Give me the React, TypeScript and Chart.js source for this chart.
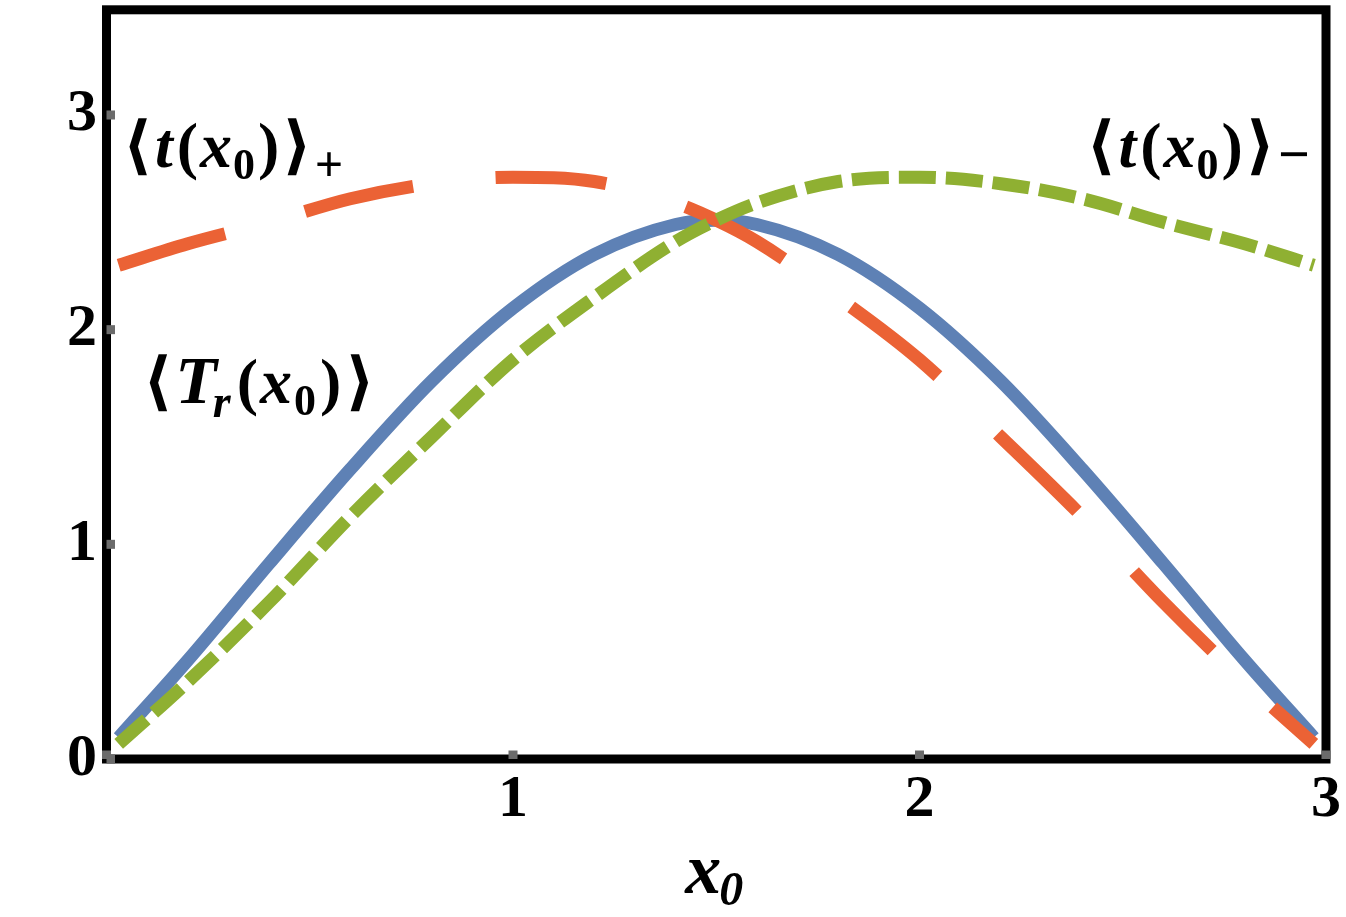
import React, { useEffect, useRef } from 'react';
import { Chart, registerables } from 'chart.js';

Chart.register(...registerables);

// ---- data ----
const X_VALUES = [0.03, 0.2, 0.4, 0.6, 0.8, 1.0, 1.2, 1.4, 1.5, 1.6, 1.8, 2.0, 2.2, 2.4, 2.6, 2.8, 2.97];
const T_R = [0.10, 0.46, 0.91, 1.35, 1.76, 2.10, 2.35, 2.49, 2.51, 2.49, 2.35, 2.10, 1.76, 1.35, 0.91, 0.46, 0.10];
const T_PLUS = [2.30, 2.40, 2.50, 2.61, 2.68, 2.71, 2.69, 2.59, 2.51, 2.41, 2.15, 1.86, 1.50, 1.13, 0.73, 0.36, 0.07];
const T_MINUS = [0.07, 0.36, 0.73, 1.13, 1.50, 1.86, 2.15, 2.41, 2.51, 2.59, 2.69, 2.71, 2.68, 2.61, 2.50, 2.40, 2.30];

const X_TICKS = [0, 1, 2, 3];
const X_TICK_LABELS = ['', '1', '2', '3'];
const Y_TICKS = [0, 1, 2, 3];
const Y_TICK_LABELS = ['0', '1', '2', '3'];

const SERIF = '"Liberation Serif", "Times New Roman", "DejaVu Serif", serif';

type Run = { text: string; style: string; size: number; dy?: number; gap?: number };

const LABEL_T_PLUS: Run[] = [
  { text: '\u27E8', style: 'bold', size: 64, gap: 3 },
  { text: 't', style: 'italic bold', size: 64, gap: 4 },
  { text: '(', style: 'bold', size: 64, gap: 2 },
  { text: 'x', style: 'italic bold', size: 64, gap: 1 },
  { text: '0', style: 'bold', size: 44, dy: 12, gap: 3 },
  { text: ')', style: 'bold', size: 64, gap: 3 },
  { text: '\u27E9', style: 'bold', size: 64, gap: 3 },
  { text: '+', style: 'bold', size: 50, dy: 14 },
];
const LABEL_T_MINUS: Run[] = [
  { text: '\u27E8', style: 'bold', size: 64, gap: 3 },
  { text: 't', style: 'italic bold', size: 64, gap: 4 },
  { text: '(', style: 'bold', size: 64, gap: 2 },
  { text: 'x', style: 'italic bold', size: 64, gap: 1 },
  { text: '0', style: 'bold', size: 44, dy: 12, gap: 3 },
  { text: ')', style: 'bold', size: 64, gap: 3 },
  { text: '\u27E9', style: 'bold', size: 64, gap: 3 },
  { text: '\u2212', style: 'bold', size: 56, dy: 6 },
];
const LABEL_T_R: Run[] = [
  { text: '\u27E8', style: 'bold', size: 64, gap: 3 },
  { text: 'T', style: 'italic bold', size: 68, gap: -4 },
  { text: 'r', style: 'italic bold', size: 46, dy: 14, gap: 6 },
  { text: '(', style: 'bold', size: 64, gap: 2 },
  { text: 'x', style: 'italic bold', size: 64, gap: 2 },
  { text: '0', style: 'bold', size: 44, dy: 12, gap: 4 },
  { text: ')', style: 'bold', size: 64, gap: 4 },
  { text: '\u27E9', style: 'bold', size: 64 },
];
const X_TITLE: Run[] = [
  { text: 'x', style: 'italic bold', size: 72, gap: -2 },
  { text: '0', style: 'italic bold', size: 48, dy: 12 },
];

// label anchors (data coordinates of text baseline start)
const LABEL_ANCHORS = [
  { runs: LABEL_T_PLUS, x: 0.04, y: 2.76 },
  { runs: LABEL_T_MINUS, x: 2.41, y: 2.76 },
  { runs: LABEL_T_R, x: 0.09, y: 1.66 },
];

function runsWidth(ctx: CanvasRenderingContext2D, runs: Run[]) {
  let w = 0;
  for (const r of runs) {
    ctx.font = `${r.style} ${r.size}px ${SERIF}`;
    w += ctx.measureText(r.text).width + (r.gap || 0);
  }
  return w;
}

function drawRuns(ctx: CanvasRenderingContext2D, runs: Run[], x: number, y: number) {
  let cx = x;
  ctx.textAlign = 'left';
  ctx.textBaseline = 'alphabetic';
  for (const r of runs) {
    ctx.font = `${r.style} ${r.size}px ${SERIF}`;
    ctx.fillText(r.text, cx, y + (r.dy || 0));
    cx += ctx.measureText(r.text).width + (r.gap || 0);
  }
}

export default function App() {
  const ref = useRef<HTMLCanvasElement>(null);

  useEffect(() => {
    document.body.style.margin = '0';
    const canvas = ref.current;
    if (!canvas) return;
    const pts = (ys: number[]) => X_VALUES.map((x, i) => ({ x, y: ys[i] }));

    const framePlugin = {
      id: 'frameAndLabels',
      afterDatasetsDraw(chart: any) {
        const { ctx, chartArea: a, scales } = chart;
        ctx.save();
        ctx.strokeStyle = '#000';
        ctx.lineWidth = 9;
        ctx.strokeRect(a.left, a.top, a.right - a.left, a.bottom - a.top);
        ctx.fillStyle = '#6b6b6b';
        for (const v of Y_TICKS) {
          const py = scales.y.getPixelForValue(v);
          ctx.fillRect(a.left, py - 4.5, 8.5, 9);
        }
        for (const v of X_TICKS) {
          const px = scales.x.getPixelForValue(v);
          ctx.fillRect(px - 4.5, a.bottom - 8.5, 9, 8.5);
        }
        ctx.fillStyle = '#000';
        for (const l of LABEL_ANCHORS) {
          drawRuns(ctx, l.runs, scales.x.getPixelForValue(l.x), scales.y.getPixelForValue(l.y));
        }
        const tw = runsWidth(ctx, X_TITLE);
        const cx = (a.left + a.right) / 2 - 2;
        drawRuns(ctx, X_TITLE, cx - tw / 2, a.bottom + 134);
        ctx.restore();
      },
    };

    const xTickFont = { family: SERIF, size: 60, weight: 'bold' as const, lineHeight: 1.2 };
    const yTickFont = { family: SERIF, size: 60, weight: 'bold' as const, lineHeight: 0.01 };

    const chart = new Chart(canvas, {
      type: 'line',
      data: {
        datasets: [
          {
            label: '<t(x0)>-',
            data: pts(T_MINUS),
            borderColor: '#8FB032',
            borderWidth: 13,
            borderDash: [37, 10],
            pointRadius: 0,
            fill: false,
            cubicInterpolationMode: 'monotone',
            order: 0,
          },
          {
            label: '<t(x0)>+',
            data: pts(T_PLUS),
            borderColor: '#EB6235',
            borderWidth: 13,
            borderDash: [111, 83],
            pointRadius: 0,
            fill: false,
            cubicInterpolationMode: 'monotone',
            order: 1,
          },
          {
            label: '<Tr(x0)>',
            data: pts(T_R),
            borderColor: '#5E81B5',
            borderWidth: 13,
            pointRadius: 0,
            fill: false,
            cubicInterpolationMode: 'monotone',
            order: 2,
          },
        ],
      },
      options: {
        animation: false,
        responsive: false,
        events: [],
        layout: { padding: { top: 4.5, right: 18, left: 0, bottom: 0 } },
        plugins: { legend: { display: false }, tooltip: { enabled: false }, title: { display: false } },
        scales: {
          x: {
            type: 'linear',
            min: 0,
            max: 3,
            border: { display: false },
            grid: { display: false, drawTicks: false },
            ticks: {
              stepSize: 1,
              autoSkip: false,
              maxRotation: 0,
              includeBounds: false,
              padding: 5,
              color: '#000',
              font: xTickFont,
              callback: (v: any) => {
                const i = X_TICKS.indexOf(Number(v));
                return i >= 0 ? X_TICK_LABELS[i] : '';
              },
            },
            afterFit: (s: any) => { s.height = 158; },
          },
          y: {
            type: 'linear',
            min: 0,
            max: 3.49,
            border: { display: false },
            grid: { display: false, drawTicks: false },
            ticks: {
              stepSize: 1,
              autoSkip: false,
              includeBounds: false,
              padding: 9.5,
              color: '#000',
              font: yTickFont,
              callback: (v: any) => {
                const i = Y_TICKS.indexOf(Number(v));
                return i >= 0 ? Y_TICK_LABELS[i] : '';
              },
            },
            afterFit: (s: any) => { s.width = 106.5; },
          },
        },
      },
      plugins: [framePlugin],
    });

    return () => chart.destroy();
  }, []);

  return (
    <div style={{ position: 'absolute', left: 0, top: 0, width: 1346, height: 917, background: '#fff' }}>
      <canvas ref={ref} width={1346} height={917} style={{ display: 'block', width: 1346, height: 917 }} />
    </div>
  );
}
